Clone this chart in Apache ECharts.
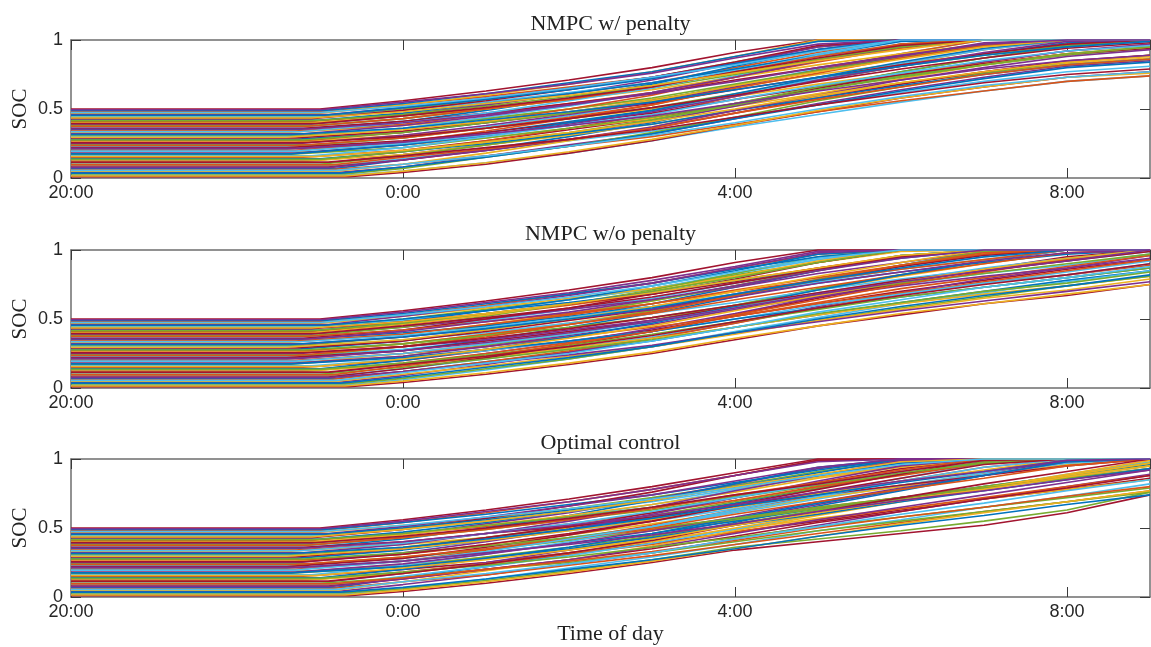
<!DOCTYPE html>
<html>
<head>
<meta charset="utf-8">
<script src="https://cdn.jsdelivr.net/npm/echarts@6/dist/echarts.min.js"></script>
<style>
  html, body { margin: 0; padding: 0; background: #fff; }
  #chart { width: 1151px; height: 647px; }
</style>
</head>
<body>
<div id="chart"></div>
<script>
// Hourly sample times after 20:00 for the charging part (0:00 ... 9:00)
const sampleHours = [4, 5, 6, 7, 8, 9, 10, 11, 12, 13];
const timeTicks = ['20:00', '0:00', '4:00', '8:00'];
const panelTitles = ['NMPC w/ penalty', 'NMPC w/o penalty', 'Optimal control'];

// Arrival SOC of each vehicle (held flat from 20:00 until charging begins)
const initialSoc = [0.23, 0.07, 0.41, 0.15, 0.48, 0.02, 0.33, 0.19, 0.45, 0.11,
  0.28, 0.37, 0.04, 0.50, 0.21, 0.13, 0.39, 0.26, 0.09, 0.44,
  0.31, 0.17, 0.01, 0.35, 0.24, 0.47, 0.06, 0.30, 0.42, 0.12,
  0.20, 0.38, 0.03, 0.27, 0.49, 0.16, 0.34, 0.08, 0.43, 0.22,
  0.10, 0.46, 0.29, 0.05, 0.36, 0.18, 0.40, 0.14, 0.32, 0.25,
  0.275, 0.075, 0.415, 0.175, 0.015, 0.335, 0.135, 0.455, 0.235, 0.035,
  0.375, 0.295, 0.095, 0.495, 0.195, 0.055, 0.395, 0.255, 0.115, 0.435,
  0.315, 0.155, 0.475, 0.215, 0.355];

// Hour (after 20:00) at which each vehicle starts charging
const chargeStart = [2.7, 3.2, 2.9, 2.8, 3.0, 3.3, 2.6, 2.9, 3.1, 3.1,
  2.7, 2.8, 3.2, 3.0, 2.6, 3.0, 2.9, 2.7, 3.2, 3.0,
  2.8, 2.6, 3.35, 2.7, 2.9, 3.0, 3.1, 2.8, 3.0, 2.8,
  2.7, 2.9, 3.3, 2.8, 3.05, 2.9, 2.7, 3.1, 2.9, 2.6,
  3.0, 3.1, 2.7, 3.2, 2.8, 2.7, 2.9, 3.0, 2.8, 2.75,
  2.8, 3.1, 2.9, 2.65, 3.3, 2.75, 3.0, 3.05, 2.7, 3.25,
  2.85, 2.6, 3.15, 3.0, 2.7, 3.2, 2.95, 2.8, 3.1, 2.9,
  2.65, 2.95, 3.0, 2.75, 2.85];

// SOC at 0:00, 1:00, ..., 9:00 for each vehicle
const socPenalty = [
  [0.29, 0.37, 0.45, 0.55, 0.67, 0.79, 0.90, 1, 1, 1],
  [0.13, 0.21, 0.30, 0.40, 0.53, 0.65, 0.77, 0.87, 0.96, 1],
  [0.46, 0.53, 0.61, 0.69, 0.80, 0.91, 1, 1, 1, 1],
  [0.20, 0.27, 0.35, 0.43, 0.54, 0.65, 0.75, 0.84, 0.92, 0.96],
  [0.53, 0.59, 0.66, 0.73, 0.83, 0.92, 1, 1, 1, 1],
  [0.05, 0.11, 0.18, 0.27, 0.37, 0.46, 0.55, 0.63, 0.70, 0.74],
  [0.38, 0.43, 0.50, 0.57, 0.66, 0.75, 0.83, 0.90, 0.97, 1],
  [0.24, 0.29, 0.36, 0.43, 0.52, 0.61, 0.69, 0.76, 0.83, 0.87],
  [0.50, 0.57, 0.65, 0.73, 0.84, 0.95, 1, 1, 1, 1],
  [0.17, 0.24, 0.32, 0.41, 0.52, 0.64, 0.74, 0.84, 0.92, 0.97],
  [0.33, 0.40, 0.48, 0.56, 0.67, 0.78, 0.88, 0.97, 1, 1],
  [0.43, 0.50, 0.58, 0.67, 0.78, 0.90, 1, 1, 1, 1],
  [0.08, 0.16, 0.24, 0.32, 0.43, 0.54, 0.64, 0.73, 0.81, 0.85],
  [0.56, 0.63, 0.71, 0.80, 0.91, 1, 1, 1, 1, 1],
  [0.26, 0.33, 0.41, 0.49, 0.60, 0.71, 0.81, 0.90, 0.98, 1],
  [0.19, 0.27, 0.36, 0.46, 0.59, 0.71, 0.83, 0.93, 1, 1],
  [0.45, 0.53, 0.61, 0.71, 0.83, 0.95, 1, 1, 1, 1],
  [0.31, 0.36, 0.43, 0.50, 0.59, 0.68, 0.76, 0.83, 0.90, 0.94],
  [0.14, 0.20, 0.27, 0.34, 0.44, 0.53, 0.62, 0.70, 0.77, 0.81],
  [0.49, 0.55, 0.62, 0.69, 0.79, 0.88, 0.97, 1, 1, 1],
  [0.36, 0.43, 0.50, 0.58, 0.68, 0.78, 0.88, 0.96, 1, 1],
  [0.22, 0.29, 0.36, 0.44, 0.54, 0.64, 0.74, 0.82, 0.89, 0.94],
  [0.04, 0.10, 0.18, 0.27, 0.38, 0.48, 0.58, 0.66, 0.73, 0.77],
  [0.41, 0.49, 0.58, 0.68, 0.81, 0.93, 1, 1, 1, 1],
  [0.29, 0.36, 0.43, 0.51, 0.61, 0.71, 0.81, 0.89, 0.96, 1],
  [0.53, 0.60, 0.68, 0.77, 0.88, 1, 1, 1, 1, 1],
  [0.10, 0.16, 0.23, 0.30, 0.39, 0.48, 0.56, 0.63, 0.70, 0.74],
  [0.36, 0.44, 0.52, 0.62, 0.74, 0.86, 0.97, 1, 1, 1],
  [0.47, 0.54, 0.61, 0.69, 0.79, 0.89, 0.99, 1, 1, 1],
  [0.17, 0.24, 0.31, 0.39, 0.49, 0.59, 0.69, 0.77, 0.84, 0.89],
  [0.26, 0.34, 0.43, 0.53, 0.66, 0.78, 0.90, 1, 1, 1],
  [0.43, 0.50, 0.57, 0.65, 0.75, 0.85, 0.95, 1, 1, 1],
  [0.07, 0.15, 0.23, 0.33, 0.44, 0.56, 0.66, 0.76, 0.84, 0.89],
  [0.33, 0.41, 0.50, 0.60, 0.73, 0.85, 0.97, 1, 1, 1],
  [0.54, 0.61, 0.69, 0.77, 0.88, 0.99, 1, 1, 1, 1],
  [0.22, 0.30, 0.38, 0.48, 0.60, 0.72, 0.83, 0.93, 1, 1],
  [0.39, 0.46, 0.54, 0.62, 0.73, 0.84, 0.94, 1, 1, 1],
  [0.13, 0.20, 0.28, 0.36, 0.47, 0.58, 0.68, 0.77, 0.85, 0.89],
  [0.49, 0.56, 0.64, 0.73, 0.84, 0.96, 1, 1, 1, 1],
  [0.27, 0.33, 0.40, 0.47, 0.57, 0.66, 0.75, 0.83, 0.90, 0.94],
  [0.16, 0.24, 0.32, 0.42, 0.54, 0.66, 0.77, 0.87, 0.95, 1],
  [0.51, 0.58, 0.65, 0.73, 0.83, 0.93, 1, 1, 1, 1],
  [0.34, 0.40, 0.47, 0.54, 0.64, 0.73, 0.82, 0.90, 0.97, 1],
  [0.10, 0.18, 0.27, 0.37, 0.49, 0.61, 0.72, 0.82, 0.90, 0.95],
  [0.41, 0.47, 0.54, 0.61, 0.71, 0.80, 0.89, 0.97, 1, 1],
  [0.24, 0.31, 0.39, 0.48, 0.59, 0.71, 0.81, 0.91, 0.99, 1],
  [0.45, 0.50, 0.57, 0.64, 0.73, 0.82, 0.90, 0.97, 1, 1],
  [0.19, 0.25, 0.32, 0.39, 0.49, 0.58, 0.67, 0.75, 0.82, 0.86],
  [0.38, 0.45, 0.53, 0.62, 0.73, 0.85, 0.95, 1, 1, 1],
  [0.31, 0.38, 0.46, 0.55, 0.66, 0.78, 0.88, 0.98, 1, 1],
  [0.33, 0.40, 0.47, 0.56, 0.67, 0.78, 0.87, 0.96, 1, 1],
  [0.13, 0.20, 0.28, 0.37, 0.49, 0.60, 0.71, 0.80, 0.88, 0.93],
  [0.46, 0.52, 0.59, 0.67, 0.76, 0.86, 0.95, 1, 1, 1],
  [0.24, 0.31, 0.40, 0.49, 0.61, 0.73, 0.84, 0.94, 1, 1],
  [0.05, 0.11, 0.19, 0.28, 0.38, 0.49, 0.58, 0.66, 0.73, 0.76],
  [0.40, 0.47, 0.56, 0.65, 0.77, 0.89, 1, 1, 1, 1],
  [0.19, 0.26, 0.33, 0.42, 0.53, 0.64, 0.73, 0.82, 0.90, 0.95],
  [0.51, 0.57, 0.64, 0.72, 0.83, 0.93, 1, 1, 1, 1],
  [0.29, 0.36, 0.44, 0.53, 0.65, 0.76, 0.87, 0.96, 1, 1],
  [0.08, 0.15, 0.23, 0.32, 0.43, 0.53, 0.63, 0.72, 0.80, 0.84],
  [0.43, 0.50, 0.57, 0.66, 0.77, 0.88, 0.97, 1, 1, 1],
  [0.35, 0.41, 0.48, 0.56, 0.67, 0.77, 0.86, 0.95, 1, 1],
  [0.15, 0.21, 0.28, 0.36, 0.47, 0.57, 0.66, 0.75, 0.82, 0.86],
  [0.55, 0.61, 0.68, 0.76, 0.87, 0.97, 1, 1, 1, 1],
  [0.25, 0.31, 0.38, 0.46, 0.57, 0.67, 0.76, 0.85, 0.92, 0.96],
  [0.10, 0.16, 0.23, 0.31, 0.40, 0.50, 0.59, 0.67, 0.73, 0.77],
  [0.45, 0.51, 0.58, 0.66, 0.77, 0.87, 0.96, 1, 1, 1],
  [0.30, 0.36, 0.43, 0.51, 0.60, 0.70, 0.79, 0.87, 0.94, 0.98],
  [0.16, 0.22, 0.28, 0.35, 0.44, 0.53, 0.61, 0.69, 0.75, 0.79],
  [0.48, 0.54, 0.60, 0.67, 0.76, 0.85, 0.93, 1, 1, 1],
  [0.36, 0.42, 0.48, 0.55, 0.64, 0.73, 0.81, 0.89, 0.95, 0.99],
  [0.20, 0.26, 0.33, 0.41, 0.50, 0.60, 0.69, 0.77, 0.84, 0.88],
  [0.52, 0.58, 0.65, 0.73, 0.82, 0.92, 1, 1, 1, 1],
  [0.26, 0.32, 0.38, 0.45, 0.54, 0.63, 0.71, 0.79, 0.85, 0.89],
  [0.40, 0.46, 0.53, 0.61, 0.70, 0.80, 0.89, 0.97, 1, 1]
];

const socNoPenalty = [
  [0.28, 0.34, 0.41, 0.48, 0.57, 0.67, 0.75, 0.83, 0.89, 0.97],
  [0.12, 0.19, 0.26, 0.34, 0.44, 0.53, 0.62, 0.70, 0.78, 0.85],
  [0.46, 0.53, 0.60, 0.68, 0.78, 0.87, 0.96, 1, 1, 1],
  [0.20, 0.27, 0.34, 0.42, 0.52, 0.61, 0.70, 0.78, 0.86, 0.93],
  [0.53, 0.60, 0.68, 0.76, 0.87, 0.97, 1, 1, 1, 1],
  [0.06, 0.13, 0.21, 0.30, 0.41, 0.51, 0.61, 0.69, 0.77, 0.85],
  [0.39, 0.46, 0.54, 0.63, 0.74, 0.85, 0.95, 1, 1, 1],
  [0.25, 0.32, 0.40, 0.49, 0.60, 0.71, 0.81, 0.90, 0.98, 1],
  [0.50, 0.57, 0.64, 0.72, 0.82, 0.91, 1, 1, 1, 1],
  [0.17, 0.25, 0.33, 0.43, 0.54, 0.66, 0.76, 0.86, 0.94, 1],
  [0.34, 0.42, 0.51, 0.61, 0.73, 0.85, 0.96, 1, 1, 1],
  [0.42, 0.49, 0.57, 0.65, 0.76, 0.86, 0.96, 1, 1, 1],
  [0.09, 0.17, 0.26, 0.36, 0.47, 0.59, 0.69, 0.79, 0.87, 0.96],
  [0.56, 0.63, 0.71, 0.80, 0.91, 1, 1, 1, 1, 1],
  [0.27, 0.35, 0.44, 0.54, 0.66, 0.78, 0.89, 0.99, 1, 1],
  [0.18, 0.25, 0.33, 0.41, 0.52, 0.62, 0.72, 0.80, 0.88, 0.96],
  [0.44, 0.50, 0.57, 0.64, 0.73, 0.83, 0.91, 0.99, 1, 1],
  [0.32, 0.39, 0.47, 0.56, 0.67, 0.78, 0.88, 0.97, 1, 1],
  [0.14, 0.21, 0.29, 0.37, 0.48, 0.58, 0.68, 0.76, 0.84, 0.92],
  [0.49, 0.56, 0.64, 0.72, 0.83, 0.93, 1, 1, 1, 1],
  [0.37, 0.45, 0.53, 0.63, 0.74, 0.86, 0.96, 1, 1, 1],
  [0.23, 0.31, 0.39, 0.49, 0.60, 0.72, 0.82, 0.92, 1, 1],
  [0.04, 0.10, 0.17, 0.25, 0.35, 0.45, 0.53, 0.61, 0.67, 0.75],
  [0.40, 0.45, 0.52, 0.59, 0.67, 0.76, 0.84, 0.91, 0.97, 1],
  [0.30, 0.38, 0.46, 0.56, 0.67, 0.79, 0.89, 0.99, 1, 1],
  [0.52, 0.58, 0.65, 0.72, 0.81, 0.91, 0.99, 1, 1, 1],
  [0.12, 0.19, 0.27, 0.36, 0.47, 0.58, 0.68, 0.77, 0.85, 0.93],
  [0.35, 0.40, 0.47, 0.54, 0.62, 0.71, 0.79, 0.86, 0.92, 0.99],
  [0.48, 0.56, 0.64, 0.74, 0.85, 0.97, 1, 1, 1, 1],
  [0.17, 0.22, 0.29, 0.36, 0.44, 0.53, 0.61, 0.68, 0.74, 0.81],
  [0.25, 0.30, 0.37, 0.44, 0.52, 0.61, 0.69, 0.76, 0.82, 0.89],
  [0.44, 0.52, 0.61, 0.71, 0.83, 0.95, 1, 1, 1, 1],
  [0.07, 0.14, 0.21, 0.30, 0.40, 0.49, 0.58, 0.66, 0.74, 0.81],
  [0.32, 0.39, 0.46, 0.54, 0.64, 0.73, 0.82, 0.90, 0.98, 1],
  [0.54, 0.61, 0.68, 0.76, 0.86, 0.95, 1, 1, 1, 1],
  [0.21, 0.27, 0.34, 0.41, 0.50, 0.60, 0.68, 0.76, 0.82, 0.90],
  [0.39, 0.46, 0.53, 0.61, 0.71, 0.80, 0.89, 0.97, 1, 1],
  [0.14, 0.22, 0.31, 0.41, 0.53, 0.65, 0.76, 0.86, 0.95, 1],
  [0.48, 0.54, 0.61, 0.68, 0.77, 0.87, 0.95, 1, 1, 1],
  [0.27, 0.34, 0.41, 0.49, 0.59, 0.68, 0.77, 0.85, 0.93, 1],
  [0.15, 0.21, 0.28, 0.35, 0.44, 0.54, 0.62, 0.70, 0.76, 0.84],
  [0.52, 0.59, 0.67, 0.76, 0.87, 0.98, 1, 1, 1, 1],
  [0.34, 0.41, 0.49, 0.57, 0.68, 0.78, 0.88, 0.96, 1, 1],
  [0.10, 0.16, 0.23, 0.30, 0.39, 0.49, 0.57, 0.65, 0.71, 0.79],
  [0.42, 0.50, 0.58, 0.68, 0.79, 0.91, 1, 1, 1, 1],
  [0.23, 0.30, 0.38, 0.46, 0.57, 0.67, 0.77, 0.85, 0.93, 1],
  [0.46, 0.53, 0.61, 0.70, 0.81, 0.92, 1, 1, 1, 1],
  [0.20, 0.28, 0.37, 0.47, 0.59, 0.71, 0.82, 0.92, 1, 1],
  [0.37, 0.43, 0.50, 0.57, 0.66, 0.76, 0.84, 0.92, 0.98, 1],
  [0.30, 0.35, 0.42, 0.49, 0.57, 0.66, 0.74, 0.81, 0.87, 0.94],
  [0.32, 0.38, 0.44, 0.51, 0.60, 0.68, 0.76, 0.83, 0.90, 0.97],
  [0.12, 0.18, 0.24, 0.31, 0.40, 0.48, 0.56, 0.63, 0.70, 0.77],
  [0.47, 0.54, 0.61, 0.70, 0.80, 0.91, 1, 1, 1, 1],
  [0.22, 0.28, 0.34, 0.41, 0.50, 0.58, 0.66, 0.73, 0.80, 0.87],
  [0.05, 0.11, 0.18, 0.26, 0.36, 0.45, 0.54, 0.61, 0.68, 0.75],
  [0.38, 0.44, 0.51, 0.59, 0.68, 0.77, 0.86, 0.93, 1, 1],
  [0.18, 0.24, 0.31, 0.39, 0.48, 0.57, 0.66, 0.73, 0.80, 0.87],
  [0.50, 0.56, 0.62, 0.69, 0.78, 0.86, 0.94, 1, 1, 1],
  [0.30, 0.37, 0.46, 0.55, 0.67, 0.78, 0.89, 0.98, 1, 1],
  [0.08, 0.15, 0.22, 0.30, 0.40, 0.50, 0.59, 0.67, 0.74, 0.82],
  [0.42, 0.48, 0.54, 0.61, 0.70, 0.78, 0.86, 0.93, 1, 1],
  [0.35, 0.42, 0.50, 0.59, 0.70, 0.81, 0.91, 1, 1, 1],
  [0.16, 0.23, 0.32, 0.41, 0.53, 0.64, 0.75, 0.84, 0.93, 1],
  [0.55, 0.62, 0.69, 0.78, 0.88, 0.99, 1, 1, 1, 1],
  [0.25, 0.32, 0.39, 0.48, 0.58, 0.69, 0.78, 0.87, 0.94, 1],
  [0.11, 0.18, 0.25, 0.34, 0.44, 0.55, 0.64, 0.73, 0.80, 0.88],
  [0.45, 0.51, 0.58, 0.66, 0.76, 0.86, 0.95, 1, 1, 1],
  [0.30, 0.36, 0.43, 0.51, 0.60, 0.69, 0.78, 0.85, 0.92, 0.99],
  [0.17, 0.23, 0.30, 0.38, 0.48, 0.58, 0.67, 0.75, 0.82, 0.90],
  [0.48, 0.54, 0.61, 0.69, 0.78, 0.87, 0.96, 1, 1, 1],
  [0.37, 0.43, 0.50, 0.58, 0.68, 0.78, 0.87, 0.95, 1, 1],
  [0.21, 0.28, 0.36, 0.45, 0.56, 0.67, 0.77, 0.86, 0.94, 1],
  [0.53, 0.59, 0.66, 0.74, 0.84, 0.94, 1, 1, 1, 1],
  [0.27, 0.33, 0.40, 0.48, 0.58, 0.68, 0.77, 0.85, 0.92, 1],
  [0.41, 0.48, 0.55, 0.64, 0.74, 0.85, 0.94, 1, 1, 1]
];

const socOptimal = [
  [0.28, 0.35, 0.43, 0.51, 0.61, 0.71, 0.81, 0.90, 0.99, 1],
  [0.14, 0.22, 0.31, 0.42, 0.54, 0.66, 0.77, 0.88, 0.99, 1],
  [0.46, 0.51, 0.58, 0.65, 0.73, 0.81, 0.89, 0.97, 1, 1],
  [0.20, 0.25, 0.32, 0.39, 0.47, 0.55, 0.63, 0.71, 0.78, 0.86],
  [0.54, 0.61, 0.69, 0.78, 0.88, 0.99, 1, 1, 1, 1],
  [0.06, 0.13, 0.21, 0.29, 0.38, 0.48, 0.56, 0.65, 0.73, 0.82],
  [0.38, 0.43, 0.50, 0.57, 0.65, 0.73, 0.81, 0.89, 0.96, 1],
  [0.23, 0.29, 0.34, 0.41, 0.49, 0.57, 0.64, 0.71, 0.78, 0.85],
  [0.50, 0.57, 0.64, 0.72, 0.81, 0.91, 0.99, 1, 1, 1],
  [0.17, 0.25, 0.34, 0.44, 0.56, 0.67, 0.78, 0.89, 0.99, 1],
  [0.34, 0.41, 0.49, 0.58, 0.68, 0.79, 0.89, 0.98, 1, 1],
  [0.43, 0.50, 0.58, 0.67, 0.77, 0.88, 0.98, 1, 1, 1],
  [0.09, 0.16, 0.24, 0.32, 0.42, 0.52, 0.62, 0.71, 0.80, 0.89],
  [0.56, 0.63, 0.71, 0.80, 0.90, 1, 1, 1, 1, 1],
  [0.26, 0.32, 0.39, 0.46, 0.55, 0.64, 0.72, 0.80, 0.88, 0.96],
  [0.18, 0.24, 0.31, 0.38, 0.47, 0.56, 0.64, 0.72, 0.80, 0.88],
  [0.45, 0.53, 0.61, 0.71, 0.82, 0.93, 1, 1, 1, 1],
  [0.31, 0.38, 0.45, 0.53, 0.62, 0.72, 0.80, 0.89, 0.97, 1],
  [0.15, 0.22, 0.30, 0.39, 0.49, 0.60, 0.70, 0.79, 0.89, 0.98],
  [0.49, 0.55, 0.62, 0.69, 0.78, 0.87, 0.95, 1, 1, 1],
  [0.36, 0.43, 0.51, 0.59, 0.69, 0.79, 0.89, 0.98, 1, 1],
  [0.22, 0.29, 0.36, 0.44, 0.53, 0.63, 0.71, 0.80, 0.88, 0.97],
  [0.04, 0.10, 0.17, 0.25, 0.34, 0.40, 0.46, 0.52, 0.61, 0.74],
  [0.42, 0.50, 0.59, 0.70, 0.82, 0.94, 1, 1, 1, 1],
  [0.29, 0.34, 0.41, 0.48, 0.56, 0.64, 0.72, 0.80, 0.87, 0.95],
  [0.52, 0.57, 0.64, 0.71, 0.79, 0.87, 0.95, 1, 1, 1],
  [0.11, 0.16, 0.23, 0.30, 0.38, 0.46, 0.54, 0.62, 0.69, 0.77],
  [0.35, 0.41, 0.48, 0.55, 0.64, 0.73, 0.81, 0.89, 0.97, 1],
  [0.47, 0.54, 0.62, 0.70, 0.80, 0.90, 1, 1, 1, 1],
  [0.17, 0.24, 0.32, 0.40, 0.50, 0.60, 0.70, 0.79, 0.88, 0.97],
  [0.26, 0.34, 0.42, 0.52, 0.63, 0.74, 0.84, 0.94, 1, 1],
  [0.43, 0.49, 0.56, 0.63, 0.72, 0.81, 0.89, 0.97, 1, 1],
  [0.06, 0.12, 0.19, 0.27, 0.36, 0.42, 0.48, 0.55, 0.63, 0.76],
  [0.31, 0.37, 0.42, 0.49, 0.57, 0.65, 0.72, 0.79, 0.86, 0.93],
  [0.54, 0.60, 0.67, 0.74, 0.83, 0.92, 1, 1, 1, 1],
  [0.23, 0.31, 0.40, 0.51, 0.63, 0.75, 0.86, 0.97, 1, 1],
  [0.39, 0.46, 0.53, 0.61, 0.70, 0.80, 0.88, 0.97, 1, 1],
  [0.13, 0.20, 0.27, 0.35, 0.44, 0.54, 0.62, 0.71, 0.79, 0.88],
  [0.49, 0.57, 0.66, 0.76, 0.88, 0.99, 1, 1, 1, 1],
  [0.28, 0.36, 0.45, 0.55, 0.67, 0.78, 0.89, 1, 1, 1],
  [0.14, 0.20, 0.25, 0.32, 0.40, 0.48, 0.55, 0.62, 0.69, 0.76],
  [0.51, 0.58, 0.66, 0.74, 0.84, 0.94, 1, 1, 1, 1],
  [0.35, 0.43, 0.51, 0.61, 0.72, 0.83, 0.93, 1, 1, 1],
  [0.11, 0.19, 0.27, 0.37, 0.48, 0.59, 0.69, 0.79, 0.89, 0.99],
  [0.40, 0.46, 0.51, 0.58, 0.66, 0.74, 0.81, 0.88, 0.95, 1],
  [0.24, 0.31, 0.39, 0.48, 0.58, 0.69, 0.79, 0.88, 0.98, 1],
  [0.45, 0.52, 0.59, 0.67, 0.76, 0.86, 0.94, 1, 1, 1],
  [0.20, 0.28, 0.36, 0.46, 0.57, 0.68, 0.78, 0.88, 0.98, 1],
  [0.38, 0.46, 0.55, 0.65, 0.77, 0.88, 0.99, 1, 1, 1],
  [0.32, 0.40, 0.49, 0.60, 0.72, 0.84, 0.95, 1, 1, 1],
  [0.32, 0.37, 0.43, 0.50, 0.57, 0.65, 0.72, 0.79, 0.86, 0.93],
  [0.13, 0.20, 0.27, 0.36, 0.46, 0.56, 0.65, 0.74, 0.83, 0.92],
  [0.46, 0.52, 0.58, 0.65, 0.73, 0.82, 0.90, 0.97, 1, 1],
  [0.22, 0.28, 0.35, 0.43, 0.52, 0.60, 0.69, 0.77, 0.85, 0.93],
  [0.05, 0.11, 0.18, 0.26, 0.35, 0.44, 0.53, 0.61, 0.69, 0.77],
  [0.39, 0.46, 0.53, 0.62, 0.72, 0.82, 0.91, 1, 1, 1],
  [0.18, 0.23, 0.29, 0.36, 0.43, 0.51, 0.58, 0.65, 0.72, 0.79],
  [0.50, 0.56, 0.63, 0.71, 0.80, 0.88, 0.97, 1, 1, 1],
  [0.29, 0.35, 0.42, 0.50, 0.60, 0.69, 0.78, 0.86, 0.95, 1],
  [0.07, 0.13, 0.20, 0.27, 0.35, 0.44, 0.52, 0.59, 0.67, 0.74],
  [0.43, 0.49, 0.56, 0.64, 0.74, 0.83, 0.92, 1, 1, 1],
  [0.35, 0.41, 0.48, 0.56, 0.66, 0.75, 0.84, 0.92, 1, 1],
  [0.14, 0.20, 0.26, 0.33, 0.41, 0.50, 0.58, 0.65, 0.73, 0.80],
  [0.55, 0.62, 0.69, 0.78, 0.88, 0.98, 1, 1, 1, 1],
  [0.26, 0.33, 0.42, 0.51, 0.62, 0.73, 0.84, 0.94, 1, 1],
  [0.11, 0.17, 0.24, 0.32, 0.42, 0.51, 0.60, 0.68, 0.77, 0.85],
  [0.44, 0.50, 0.57, 0.65, 0.74, 0.82, 0.91, 0.99, 1, 1],
  [0.31, 0.38, 0.46, 0.55, 0.66, 0.76, 0.86, 0.96, 1, 1],
  [0.17, 0.24, 0.32, 0.41, 0.52, 0.62, 0.72, 0.82, 0.91, 1],
  [0.49, 0.55, 0.62, 0.70, 0.80, 0.89, 0.98, 1, 1, 1],
  [0.36, 0.42, 0.49, 0.57, 0.66, 0.74, 0.83, 0.91, 0.99, 1],
  [0.21, 0.27, 0.34, 0.42, 0.52, 0.61, 0.70, 0.78, 0.87, 0.95],
  [0.52, 0.58, 0.64, 0.71, 0.79, 0.88, 0.96, 1, 1, 1],
  [0.26, 0.32, 0.38, 0.45, 0.53, 0.62, 0.70, 0.77, 0.85, 0.92],
  [0.40, 0.46, 0.52, 0.59, 0.67, 0.76, 0.84, 0.91, 0.99, 1]
];

const panels = [socPenalty, socNoPenalty, socOptimal];
const lineColors = ['#0072BD', '#D95319', '#EDB120', '#7E2F8E', '#77AC30', '#4DBEEE', '#A2142F'];

const gridTops = [40, 250, 459];
const gridH = 138, gridLeft = 71, gridW = 1079;
const frameColor = '#6e6e6e', tickColor = '#3a3a3a', labelColor = '#262626';
const sansFont = '"Liberation Sans", Arial, Helvetica, sans-serif';
const serifFont = '"Liberation Serif", "Times New Roman", serif';

const grids = [], xAxes = [], yAxes = [], series = [], graphics = [];

gridTops.forEach((top, p) => {
  grids.push({ left: gridLeft, top: top, width: gridW, height: gridH, containLabel: false });
  const xBase = {
    type: 'value', gridIndex: p, min: 0, max: 13, interval: 4,
    splitLine: { show: false },
    axisLine: { show: true, onZero: false, lineStyle: { color: frameColor, width: 1.5 } },
    axisTick: { show: true, inside: true, length: 10, lineStyle: { color: tickColor, width: 1 } }
  };
  xAxes.push(Object.assign({}, xBase, {
    position: 'bottom',
    axisLabel: {
      show: true, margin: 6, fontSize: 18, color: labelColor, fontFamily: sansFont,
      showMaxLabel: false,
      formatter: v => (v % 4 === 0 && timeTicks[v / 4] !== undefined) ? timeTicks[v / 4] : ''
    }
  }));
  xAxes.push(Object.assign({}, xBase, { position: 'top', axisLabel: { show: false } }));
  const yBase = {
    type: 'value', gridIndex: p, min: 0, max: 1, interval: 0.5,
    splitLine: { show: false },
    axisLine: { show: true, onZero: false, lineStyle: { color: frameColor, width: 1.5 } },
    axisTick: { show: true, inside: true, length: 10, lineStyle: { color: tickColor, width: 1 } }
  };
  yAxes.push(Object.assign({}, yBase, {
    position: 'left',
    axisLabel: { show: true, margin: 8, fontSize: 18, color: labelColor, fontFamily: sansFont }
  }));
  yAxes.push(Object.assign({}, yBase, { position: 'right', axisLabel: { show: false } }));

  panels[p].forEach((row, i) => {
    // flat at arrival SOC, then the hourly charging trajectory
    const pts = [[0, initialSoc[i]], [chargeStart[i], initialSoc[i]]];
    row.forEach((v, k) => pts.push([sampleHours[k], v]));
    // neighbouring arrival levels get different colours from the 7-colour cycle
    const c = lineColors[(Math.round(initialSoc[i] * 200) * 3) % lineColors.length];
    series.push({
      type: 'line', xAxisIndex: 2 * p, yAxisIndex: 2 * p, data: pts,
      symbol: 'none', showSymbol: false, clip: false, silent: true,
      lineStyle: { width: 1.6, color: c }, itemStyle: { color: c },
      emphasis: { disabled: true }, animation: false, z: 3
    });
  });

  // panel title and y-axis name
  graphics.push({
    type: 'text', x: gridLeft + gridW / 2, y: top - 16, silent: true,
    style: { text: panelTitles[p], font: '22px ' + serifFont, fill: '#222', textAlign: 'center', textVerticalAlign: 'middle' }
  });
  graphics.push({
    type: 'text', x: 20, y: top + gridH / 2, rotation: Math.PI / 2, silent: true,
    style: { text: 'SOC', font: '21px ' + serifFont, fill: '#222', textAlign: 'center', textVerticalAlign: 'middle' }
  });
});

graphics.push({
  type: 'text', x: gridLeft + gridW / 2, y: 634, silent: true,
  style: { text: 'Time of day', font: '22px ' + serifFont, fill: '#222', textAlign: 'center', textVerticalAlign: 'middle' }
});

const chart = echarts.init(document.getElementById('chart'), null, { renderer: 'canvas' });
chart.setOption({
  backgroundColor: '#fff',
  animation: false,
  tooltip: { show: false },
  grid: grids,
  xAxis: xAxes,
  yAxis: yAxes,
  series: series,
  graphic: graphics
});
</script>
</body>
</html>
